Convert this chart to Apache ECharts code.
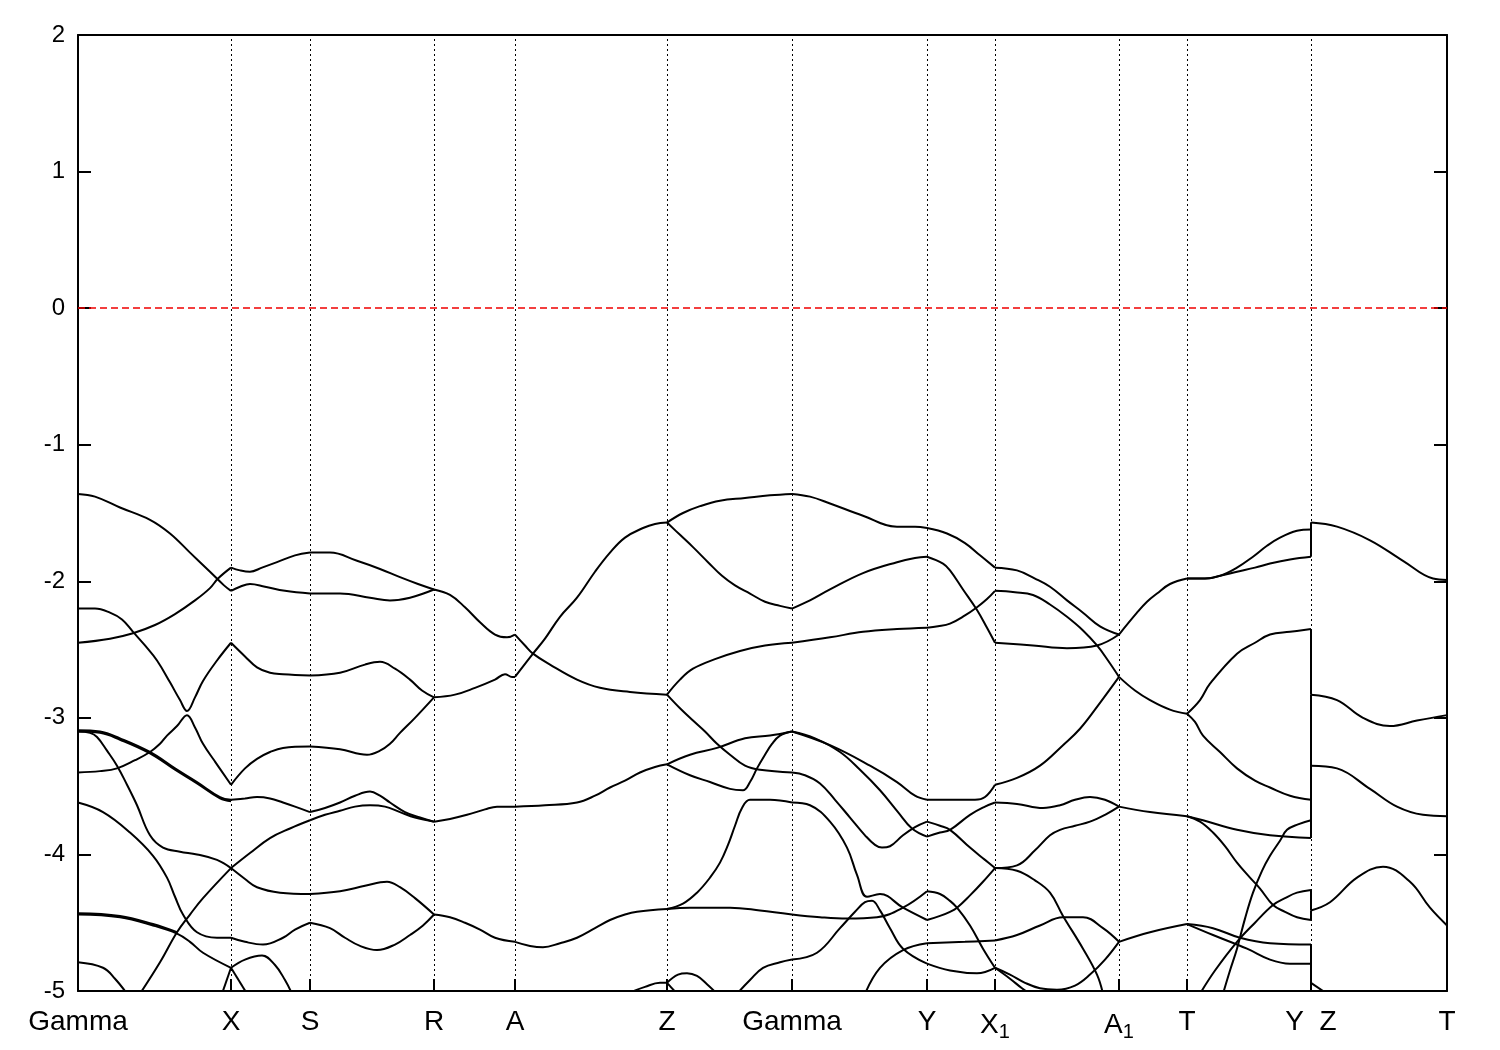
<!DOCTYPE html>
<html><head><meta charset="utf-8">
<script src="https://cdn.jsdelivr.net/npm/echarts@6/dist/echarts.min.js"></script>
<style>html,body{margin:0;padding:0;background:#fff}#c{width:1500px;height:1050px}</style>
</head><body><div id="c"></div>
<script>
// high-symmetry k positions (path length units) and labels
const kTicks = [0,153,232,356,437,589,714,849,917,1041,1109,1233,1369];
const kLabels = ['Gamma','X','S','R','A','Z','Gamma','Y','X1','A1','T','Y|Z','T'];
const yTicks = [-5,-4,-3,-2,-1,0,1,2];
const fermi = 0;

// band curves: [k, E(eV)]
const c1 = [[0,-1.36],[17,-1.38],[42,-1.46],[72,-1.55],[92,-1.65],[112,-1.79],[132,-1.93],[146,-2.03],[153,-2.07],[162,-2.04],[172,-2.02],[187,-2.04],[207,-2.07],[232,-2.09],[262,-2.09],[292,-2.12],[312,-2.14],[332,-2.12],[356,-2.06],[372,-2.10],[387,-2.19],[402,-2.30],[417,-2.39],[429,-2.41],[437,-2.39],[447,-2.47],[455,-2.53],[472,-2.61],[499,-2.72],[522,-2.78],[552,-2.81],[589,-2.83],[602,-2.93],[615,-3.02],[627,-3.10],[639,-3.19],[652,-3.27],[667,-3.35],[682,-3.38],[714,-3.40],[727,-3.42],[742,-3.48],[757,-3.60],[772,-3.73],[787,-3.86],[797,-3.93],[804,-3.95],[812,-3.94],[825,-3.86],[837,-3.80],[849,-3.76],[862,-3.79],[872,-3.82],[892,-3.95],[907,-4.04],[917,-4.10],[939,-4.12],[957,-4.19],[972,-4.28],[985,-4.45],[1005,-4.69],[1019,-4.88],[1025,-5.02]];
const c2 = [[0,-2.45],[32,-2.42],[55,-2.38],[77,-2.32],[97,-2.24],[117,-2.14],[132,-2.05],[140,-1.98],[153,-1.90],[162,-1.92],[172,-1.93],[184,-1.90],[199,-1.86],[217,-1.81],[232,-1.79],[252,-1.79],[279,-1.85],[302,-1.91],[322,-1.97],[340,-2.02],[356,-2.06]];
const c3 = [[0,-2.20],[17,-2.20],[32,-2.23],[44,-2.28],[55,-2.37],[67,-2.47],[79,-2.58],[92,-2.74],[102,-2.87],[109,-2.95],[117,-2.85],[125,-2.73],[139,-2.58],[153,-2.45],[167,-2.55],[179,-2.63],[192,-2.67],[205,-2.68],[232,-2.69],[262,-2.67],[287,-2.61],[302,-2.59],[317,-2.64],[332,-2.72],[344,-2.80],[356,-2.85],[377,-2.83],[397,-2.78],[417,-2.72],[427,-2.68],[434,-2.70],[437,-2.70],[455,-2.53],[467,-2.42],[482,-2.26],[499,-2.12],[517,-1.93],[532,-1.79],[547,-1.68],[565,-1.61],[577,-1.58],[589,-1.57],[605,-1.50],[622,-1.45],[642,-1.41],[667,-1.39],[692,-1.37],[714,-1.36],[732,-1.38],[752,-1.43],[785,-1.52],[819,-1.60],[837,-1.60],[849,-1.61],[869,-1.65],[887,-1.72],[902,-1.81],[917,-1.90],[939,-1.92],[957,-1.98],[972,-2.04],[989,-2.14],[1005,-2.23],[1022,-2.33],[1041,-2.39],[1059,-2.23],[1069,-2.15],[1079,-2.09],[1092,-2.02],[1109,-1.98],[1127,-1.98],[1142,-1.96],[1159,-1.90],[1175,-1.82],[1189,-1.74],[1202,-1.68],[1219,-1.63],[1233,-1.62],[1233,-1.57],[1259,-1.60],[1292,-1.70],[1325,-1.85],[1355,-1.98],[1369,-1.99]];
const c4 = [[1109,-1.98],[1127,-1.98],[1142,-1.96],[1159,-1.93],[1177,-1.90],[1192,-1.87],[1212,-1.84],[1233,-1.82],[1233,-1.57]];
const c5 = [[589,-1.57],[602,-1.66],[615,-1.75],[630,-1.86],[644,-1.96],[657,-2.03],[672,-2.09],[687,-2.15],[702,-2.18],[714,-2.20],[732,-2.14],[752,-2.06],[785,-1.94],[819,-1.86],[837,-1.83],[849,-1.82],[865,-1.87],[872,-1.92],[885,-2.06],[899,-2.21],[909,-2.34],[917,-2.45],[955,-2.47],[989,-2.49],[1019,-2.47],[1041,-2.39]];
const c6 = [[589,-2.83],[602,-2.72],[615,-2.64],[637,-2.57],[662,-2.51],[687,-2.47],[714,-2.45],[752,-2.41],[785,-2.37],[819,-2.35],[849,-2.34],[860,-2.33],[872,-2.31],[887,-2.25],[899,-2.19],[909,-2.13],[917,-2.07],[937,-2.08],[955,-2.10],[972,-2.17],[989,-2.26],[1005,-2.36],[1019,-2.47],[1030,-2.58],[1041,-2.70],[1057,-2.80],[1072,-2.87],[1092,-2.94],[1109,-2.97],[1122,-2.87],[1132,-2.75],[1159,-2.53],[1177,-2.45],[1192,-2.39],[1212,-2.37],[1233,-2.35],[1233,-2.83],[1259,-2.87],[1285,-3.00],[1312,-3.06],[1339,-3.02],[1369,-2.98]];
const c7 = [[0,-3.40],[22,-3.39],[39,-3.37],[57,-3.31],[72,-3.25],[82,-3.19],[89,-3.13],[99,-3.06],[109,-2.98],[117,-3.07],[125,-3.19],[137,-3.32],[153,-3.49],[167,-3.37],[179,-3.30],[192,-3.25],[205,-3.22],[232,-3.21],[262,-3.23],[289,-3.27],[302,-3.24],[312,-3.19],[322,-3.11],[337,-3.00],[356,-2.85]];
const c8 = [[0,-3.09],[22,-3.10],[42,-3.15],[72,-3.25],[97,-3.37],[119,-3.47],[142,-3.58],[153,-3.60],[167,-3.59],[179,-3.58],[192,-3.59],[205,-3.62],[217,-3.65],[232,-3.69],[247,-3.66],[262,-3.62],[277,-3.57],[292,-3.54],[302,-3.57],[312,-3.62],[327,-3.69],[342,-3.73],[356,-3.76],[372,-3.74],[389,-3.71],[407,-3.67],[419,-3.65],[437,-3.65],[467,-3.64],[499,-3.62],[517,-3.57],[532,-3.51],[547,-3.46],[562,-3.40],[577,-3.36],[589,-3.34],[612,-3.27],[639,-3.22],[667,-3.15],[692,-3.13],[714,-3.10],[752,-3.20],[792,-3.35],[819,-3.47],[837,-3.57],[849,-3.60],[872,-3.60],[897,-3.60],[907,-3.58],[917,-3.49],[939,-3.44],[962,-3.35],[985,-3.20],[1002,-3.08],[1022,-2.89],[1041,-2.70]];
const c8b = [[0,-3.10],[22,-3.11],[42,-3.16],[72,-3.26],[97,-3.38],[119,-3.48],[142,-3.59],[153,-3.61]];
const c9 = [[589,-3.34],[612,-3.42],[632,-3.47],[652,-3.52],[665,-3.53],[672,-3.47],[679,-3.37],[687,-3.27],[694,-3.19],[702,-3.13],[714,-3.10],[737,-3.15],[762,-3.25],[782,-3.38],[802,-3.53],[820,-3.69],[834,-3.81],[849,-3.87],[862,-3.84],[872,-3.82],[892,-3.71],[907,-3.65],[917,-3.62],[939,-3.63],[965,-3.66],[982,-3.64],[997,-3.60],[1012,-3.58],[1027,-3.60],[1041,-3.65],[1072,-3.69],[1109,-3.72],[1125,-3.75],[1159,-3.82],[1192,-3.86],[1233,-3.88],[1233,-3.35],[1259,-3.37],[1292,-3.52],[1319,-3.65],[1345,-3.71],[1369,-3.72]];
const c10 = [[0,-3.10],[12,-3.11],[19,-3.14],[29,-3.24],[39,-3.35],[49,-3.49],[59,-3.64],[72,-3.86],[85,-3.95],[102,-3.98],[119,-4.00],[139,-4.04],[153,-4.10],[167,-4.18],[179,-4.24],[202,-4.28],[232,-4.29],[262,-4.27],[287,-4.23],[309,-4.20],[322,-4.24],[337,-4.32],[356,-4.44],[372,-4.46],[387,-4.50],[402,-4.55],[417,-4.61],[437,-4.64],[452,-4.67],[465,-4.68],[482,-4.65],[499,-4.61],[517,-4.54],[532,-4.48],[547,-4.44],[559,-4.42],[589,-4.40],[612,-4.39],[652,-4.39],[682,-4.41],[714,-4.44],[742,-4.46],[769,-4.47],[799,-4.46],[825,-4.39],[849,-4.27],[862,-4.29],[872,-4.34],[879,-4.39],[892,-4.52],[905,-4.69],[917,-4.83],[932,-4.91],[944,-4.98],[952,-5.02]];
const c11 = [[0,-3.62],[25,-3.69],[52,-3.84],[75,-4.01],[89,-4.17],[97,-4.31],[105,-4.44],[119,-4.57],[139,-4.61],[153,-4.61],[167,-4.64],[185,-4.66],[205,-4.61],[217,-4.55],[232,-4.50],[252,-4.54],[267,-4.61],[282,-4.67],[299,-4.70],[317,-4.66],[332,-4.59],[345,-4.52],[356,-4.44]];
const c12 = [[0,-4.44],[42,-4.46],[75,-4.52],[99,-4.58],[112,-4.64],[125,-4.72],[153,-4.83],[167,-4.77],[184,-4.74],[197,-4.81],[207,-4.92],[214,-5.02]];
const c12b = [[0,-4.43],[42,-4.45],[75,-4.51],[99,-4.57]];
const c13 = [[0,-4.79],[25,-4.83],[37,-4.91],[49,-5.02]];
const c14 = [[62,-5.02],[82,-4.79],[99,-4.57],[112,-4.44],[125,-4.32],[153,-4.10],[172,-3.99],[192,-3.88],[212,-3.81],[232,-3.75],[247,-3.71],[262,-3.68],[277,-3.65],[292,-3.64],[307,-3.65],[322,-3.69],[337,-3.73],[356,-3.76]];
const c15 = [[144,-5.02],[153,-4.83],[169,-5.02]];
const c16 = [[589,-4.40],[605,-4.36],[619,-4.28],[632,-4.17],[642,-4.06],[650,-3.93],[657,-3.79],[664,-3.66],[672,-3.60],[692,-3.60],[714,-3.62],[732,-3.64],[752,-3.76],[769,-3.95],[779,-4.15],[789,-4.31],[802,-4.29],[825,-4.39],[849,-4.48],[862,-4.45],[872,-4.42],[879,-4.39],[892,-4.30],[905,-4.20],[917,-4.10],[939,-4.08],[957,-3.97],[972,-3.86],[982,-3.82],[997,-3.79],[1012,-3.76],[1027,-3.71],[1041,-3.65]];
const c17 = [[659,-5.02],[672,-4.92],[685,-4.83],[702,-4.79],[714,-4.77],[739,-4.72],[762,-4.54],[777,-4.42],[787,-4.35],[794,-4.34],[802,-4.41],[812,-4.54],[825,-4.69],[849,-4.80],[872,-4.85],[899,-4.87],[917,-4.83],[932,-4.88],[947,-4.94],[962,-4.98],[979,-4.99],[997,-4.96],[1012,-4.88],[1027,-4.77],[1041,-4.64]];
const c18 = [[787,-5.02],[802,-4.83],[825,-4.70],[849,-4.65],[887,-4.64],[917,-4.63],[939,-4.59],[962,-4.52],[985,-4.46],[1005,-4.46],[1025,-4.54],[1041,-4.64],[1072,-4.57],[1109,-4.51],[1135,-4.54],[1162,-4.61],[1192,-4.65],[1233,-4.66],[1233,-4.94],[1249,-5.02]];
const c19 = [[1109,-2.97],[1117,-3.03],[1125,-3.13],[1142,-3.25],[1159,-3.37],[1177,-3.46],[1192,-3.51],[1212,-3.57],[1233,-3.60],[1233,-2.83]];
const c20 = [[1109,-3.72],[1122,-3.76],[1135,-3.84],[1147,-3.94],[1159,-4.06],[1172,-4.17],[1182,-4.25],[1195,-4.37],[1207,-4.42],[1219,-4.46],[1233,-4.48],[1233,-4.41],[1252,-4.35],[1279,-4.17],[1305,-4.09],[1332,-4.20],[1352,-4.39],[1369,-4.52]];
const c21 = [[1145,-5.02],[1152,-4.85],[1159,-4.69],[1167,-4.47],[1175,-4.28],[1184,-4.12],[1192,-4.01],[1202,-3.90],[1209,-3.82],[1220,-3.78],[1233,-3.75],[1233,-3.35]];
const c22 = [[1122,-5.02],[1137,-4.85],[1159,-4.64],[1177,-4.50],[1195,-4.37],[1207,-4.32],[1219,-4.28],[1233,-4.26],[1233,-4.41]];
const c23 = [[1109,-4.51],[1135,-4.59],[1169,-4.69],[1192,-4.77],[1212,-4.80],[1233,-4.80],[1233,-4.94]];
const c25 = [[549,-5.02],[567,-4.97],[582,-4.94],[589,-4.94],[599,-5.02]];
const c26 = [[589,-4.94],[600,-4.88],[609,-4.87],[619,-4.89],[629,-4.95],[639,-5.02]];

const curves = [c1,c2,c3,c4,c5,c6,c7,c8,c8b,c9,c10,c11,c12,c12b,c13,c14,c15,c16,c17,c18,c19,c20,c21,c22,c23,c25,c26];

// split each curve at high-symmetry points so kinks stay sharp
const tickSet = new Set(kTicks);
function splitCurve(cv){
  const out=[]; let cur=[cv[0]];
  for(let i=1;i<cv.length;i++){
    cur.push(cv[i]);
    if(tickSet.has(cv[i][0]) && i<cv.length-1){ out.push(cur); cur=[cv[i]]; }
  }
  if(cur.length>1) out.push(cur);
  return out;
}
const series=[];
curves.forEach(cv=>splitCurve(cv).forEach(seg=>{
  series.push({type:'line',data:seg,showSymbol:false,symbol:'none',smooth:0.4,
    lineStyle:{color:'#000',width:2},silent:true,animation:false,z:3});
}));
// guide lines
series.push({type:'line',data:[],silent:true,animation:false,
  markLine:{symbol:'none',silent:true,animation:false,label:{show:false},
    data:kTicks.slice(1,-1).map(k=>({xAxis:k,lineStyle:{color:'#000',width:1,type:[2,3]}}))
      .concat([{yAxis:fermi,lineStyle:{color:'#f00000',width:1.5,type:[7,4]}}])}});

function fmtK(v){
  const i=kTicks.indexOf(v); if(i<0) return '';
  const s=kLabels[i];
  if(s==='X1') return 'X{s|1}';
  if(s==='A1') return 'A{s|1}';
  if(s==='Y|Z') return 'Y  Z';
  return s;
}
const font = '"Liberation Sans", Arial, Helvetica, sans-serif';
const chart = echarts.init(document.getElementById('c'),null,{renderer:'canvas'});
chart.setOption({
  backgroundColor:'#fff',
  animation:false,
  grid:{left:78,right:53,top:35,bottom:59,show:false},
  xAxis:[{type:'value',min:0,max:1369,position:'bottom',
    axisLine:{show:true,onZero:false,lineStyle:{color:'#000',width:2}},
    axisTick:{show:true,inside:true,length:12,customValues:kTicks,lineStyle:{color:'#000',width:2}},
    axisLabel:{show:true,customValues:kTicks,formatter:fmtK,margin:17,color:'#000',fontSize:28,fontFamily:font,
      showMinLabel:true,showMaxLabel:true,
      rich:{s:{fontSize:20,fontFamily:font,color:'#000',verticalAlign:'bottom',padding:[14,0,0,0]}}},
    splitLine:{show:false}},
   {type:'value',min:0,max:1369,position:'top',
    axisLine:{show:true,onZero:false,lineStyle:{color:'#000',width:2}},
    axisTick:{show:false},axisLabel:{show:false},splitLine:{show:false}}],
  yAxis:[{type:'value',min:-5,max:2,interval:1,position:'left',
    axisLine:{show:true,onZero:false,lineStyle:{color:'#000',width:2}},
    axisTick:{show:true,inside:true,length:13,lineStyle:{color:'#000',width:2}},
    axisLabel:{show:true,margin:13,color:'#000',fontSize:24,fontFamily:font,
      formatter:v=>yTicks.includes(v)?String(v):''},
    splitLine:{show:false}},
   {type:'value',min:-5,max:2,interval:1,position:'right',
    axisLine:{show:true,onZero:false,lineStyle:{color:'#000',width:2}},
    axisTick:{show:true,inside:true,length:13,lineStyle:{color:'#000',width:2}},
    axisLabel:{show:false},splitLine:{show:false}}],
  series:series
});
</script></body></html>
